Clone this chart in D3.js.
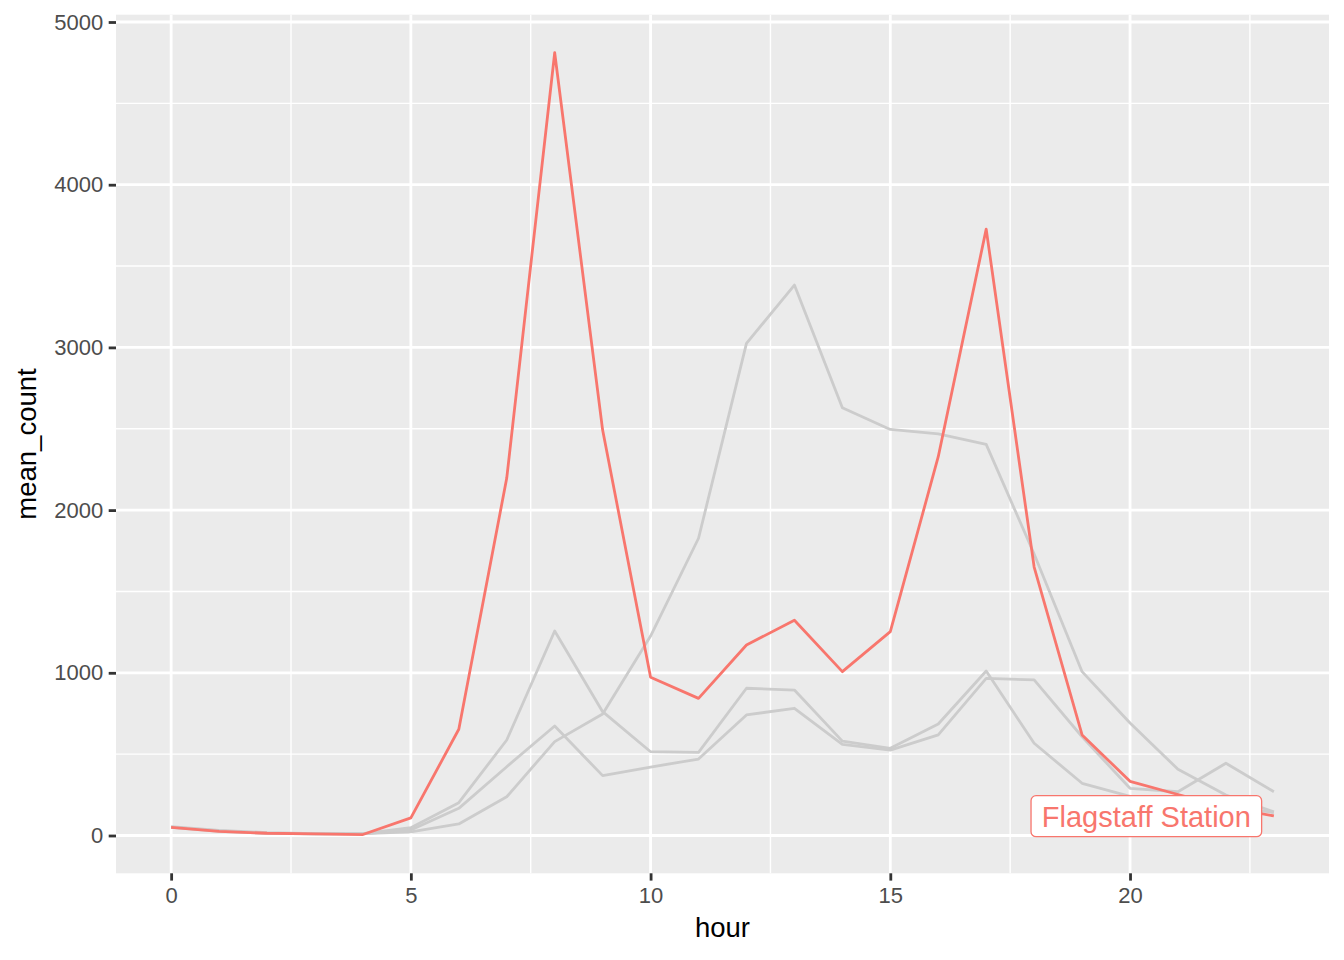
<!DOCTYPE html>
<html>
<head>
<meta charset="utf-8">
<script src="https://cdn.jsdelivr.net/npm/d3@7"></script>
<style>
  body { margin: 0; background: #fff; }
  text { font-family: "Liberation Sans", Arial, sans-serif; }
</style>
</head>
<body>
<div id="chart"></div>
<script>
// data
var hours = [0, 1, 2, 3, 4, 5, 6, 7, 8, 9, 10, 11, 12, 13, 14, 15, 16, 17, 18, 19, 20, 21, 22, 23];
var flagstaff = [50, 25, 14, 10, 6, 108, 653, 2197, 4811, 2492, 973, 843, 1171, 1323, 1007, 1253, 2328, 3727, 1650, 618, 333, 252, 175, 120];
var otherA = [55, 32, 18, 12, 12, 23, 71, 238, 577, 747, 1226, 1827, 3025, 3383, 2629, 2496, 2468, 2404, 1730, 1007, 691, 407, 249, 145];
var otherB = [52, 28, 15, 10, 12, 48, 202, 587, 1257, 761, 515, 511, 905, 894, 580, 536, 685, 1011, 567, 321, 240, 225, 185, 140];
var otherC = [50, 25, 13, 10, 10, 34, 167, 423, 673, 368, 421, 470, 741, 782, 560, 525, 618, 966, 956, 607, 290, 269, 444, 269];
var xTicks = [0, 5, 10, 15, 20];
var yTicks = [0, 1000, 2000, 3000, 4000, 5000];
var labelText = 'Flagstaff Station';
var labelAt = [20.34, 119]; // hour, mean_count where the repelled label sits

var w = 1344;
var h = 960;
// panel edges (window.top is read-only, so no plain "top")
var pLeft = 116, pRight = 1329, pTop = 14.7, pBottom = 873.3;

var svg = d3.select('#chart').append('svg')
  .attr('width', w)
  .attr('height', h);

var x = d3.scaleLinear().domain([-1.15, 24.15]).range([pLeft, pRight]);
var y = d3.scaleLinear().domain([-232.3, 5044.9]).range([pBottom, pTop]);

// panel
svg.append('rect')
  .attr('x', pLeft)
  .attr('y', pTop)
  .attr('width', pRight - pLeft)
  .attr('height', pBottom - pTop)
  .attr('fill', '#EBEBEB');

// minor grid, halfway between majors
var xMinor = [];
for (var i = 0; i < xTicks.length - 1; ++i) xMinor.push((xTicks[i] + xTicks[i + 1]) / 2);
xMinor.push(xTicks[xTicks.length - 1] + 2.5);
var yMinor = [];
for (var i = 0; i < yTicks.length - 1; ++i) yMinor.push((yTicks[i] + yTicks[i + 1]) / 2);

var grid = svg.append('g');
grid.selectAll('.xmin').data(xMinor).enter().append('line')
  .attr('x1', function(d) { return x(d); })
  .attr('x2', function(d) { return x(d); })
  .attr('y1', pTop).attr('y2', pBottom)
  .attr('stroke', '#fff').attr('stroke-width', 1.4);
grid.selectAll('.ymin').data(yMinor).enter().append('line')
  .attr('y1', function(d) { return y(d); })
  .attr('y2', function(d) { return y(d); })
  .attr('x1', pLeft).attr('x2', pRight)
  .attr('stroke', '#fff').attr('stroke-width', 1.4);
grid.selectAll('.xmaj').data(xTicks).enter().append('line')
  .attr('x1', function(d) { return x(d); })
  .attr('x2', function(d) { return x(d); })
  .attr('y1', pTop).attr('y2', pBottom)
  .attr('stroke', '#fff').attr('stroke-width', 2.8);
grid.selectAll('.ymaj').data(yTicks).enter().append('line')
  .attr('y1', function(d) { return y(d); })
  .attr('y2', function(d) { return y(d); })
  .attr('x1', pLeft).attr('x2', pRight)
  .attr('stroke', '#fff').attr('stroke-width', 2.8);

// axes
var xAxis = svg.append('g')
  .attr('transform', 'translate(0,' + pBottom + ')')
  .call(d3.axisBottom(x).tickValues(xTicks).tickSize(7.3).tickPadding(7));
var yAxis = svg.append('g')
  .attr('transform', 'translate(' + pLeft + ',0)')
  .call(d3.axisLeft(y).tickValues(yTicks).tickSize(7.3).tickPadding(5.5).tickFormat(d3.format('d')));
[xAxis, yAxis].forEach(function(a) {
  a.select('.domain').remove();
  a.selectAll('.tick line').attr('stroke', '#333333').attr('stroke-width', 2.8);
  a.selectAll('.tick text')
    .attr('fill', '#4D4D4D')
    .style('font-size', '22px')
    .style('font-family', '"Liberation Sans", Arial, sans-serif');
});

// lines
var line = d3.line()
  .x(function(d, i) { return x(hours[i]); })
  .y(function(d) { return y(d); });

svg.append('g').selectAll('path')
  .data([otherA, otherB, otherC])
  .enter().append('path')
  .attr('d', line)
  .attr('fill', 'none')
  .attr('stroke', '#CCCCCC')
  .attr('stroke-width', 2.8)
  .attr('stroke-linejoin', 'round');

svg.append('path')
  .attr('d', line(flagstaff))
  .attr('fill', 'none')
  .attr('stroke', '#F8766D')
  .attr('stroke-width', 2.8)
  .attr('stroke-linejoin', 'round');

// repelled label
var lg = svg.append('g')
  .attr('transform', 'translate(' + x(labelAt[0]) + ',' + y(labelAt[1]) + ')');
lg.append('rect')
  .attr('x', -115.3)
  .attr('y', -20.5)
  .attr('width', 230.6)
  .attr('height', 41)
  .attr('rx', 5)
  .attr('fill', '#fff')
  .attr('stroke', '#F8766D')
  .attr('stroke-width', 1.3);
lg.append('text')
  .attr('text-anchor', 'middle')
  .attr('y', 10.5)
  .attr('fill', '#F8766D')
  .style('font-size', '29px')
  .text(labelText);

// axis titles
svg.append('text')
  .attr('x', (pLeft + pRight) / 2)
  .attr('y', 936.7)
  .attr('text-anchor', 'middle')
  .style('font-size', '27.5px')
  .text('hour');
svg.append('text')
  .attr('transform', 'translate(36,' + (pTop + pBottom) / 2 + ') rotate(-90)')
  .attr('text-anchor', 'middle')
  .style('font-size', '27.5px')
  .text('mean_count');
</script>
</body>
</html>
